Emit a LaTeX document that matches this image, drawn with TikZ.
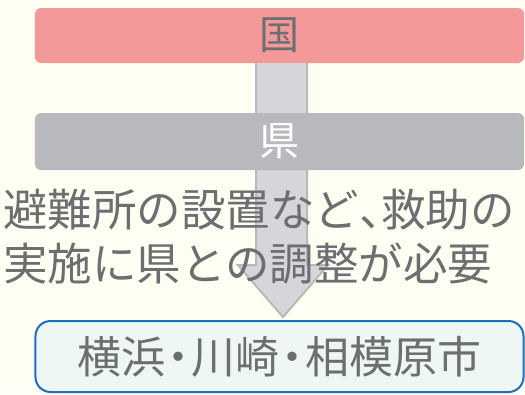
\documentclass[tikz,border=0pt]{standalone}
\usepackage{fontspec}
\newfontfamily\jp{Noto Sans CJK JP}
\usetikzlibrary{calc}
\definecolor{bgc}{HTML}{FFFEF2}
\definecolor{pinkc}{HTML}{F4999A}
\definecolor{barg}{HTML}{B8B9BC}
\definecolor{arrf}{HTML}{D5D6D9}
\definecolor{txtc}{HTML}{6D6E71}
\definecolor{bluec}{HTML}{1B6EC2}
\definecolor{boxf}{HTML}{EEF7F4}
\tikzset{
  bar/.style={rounded corners=6bp, minimum width=489bp, inner sep=0pt, font=\jp\fontsize{40bp}{44bp}\selectfont},
  bigtext/.style={anchor=base west, inner sep=0pt, text=txtc, font=\jp\fontsize{44.5bp}{48bp}\selectfont},
  citybox/.style={draw=bluec, line width=2bp, fill=boxf, rounded corners=15bp, minimum width=488bp, minimum height=71bp, inner sep=0pt, text=txtc, font=\jp\fontsize{44bp}{48bp}\selectfont},
  blockarrow/.style={draw=barg, fill=arrf, line width=2bp, line join=miter}
}
\newcommand{\nakaguro}{\makebox[0.6em][c]{・}}
\begin{document}
\begin{tikzpicture}[x=1bp,y=-1bp]
\fill[bgc] (0,0) rectangle (525,394);
\useasboundingbox (0,0) rectangle (525,394);
\node[bar, fill=pinkc, minimum height=55bp, text=txtc] (kuni) at (279.5,35.5) {国};
\node[citybox] (city) at (279.5,356.5) {横浜\nakaguro 川崎\nakaguro 相模原市};
\coordinate (tip) at (283,317);
\draw[blockarrow] ($(kuni.south)+(-23.5,0)$) -- ($(kuni.south)+(-23.5,202)$) -- ($(kuni.south)+(-41.5,202)$) -- (tip) -- ($(kuni.south)+(48.5,202)$) -- ($(kuni.south)+(27.5,202)$) -- ($(kuni.south)+(27.5,0)$);
\node[bar, fill=barg, minimum height=57bp, text=white] (ken) at (279.5,141.5) {県};
\node[bigtext] (line1) at (3,226) {避難所の設置など\makebox[0.5em][l]{、}救助の};
\node[bigtext] (line2) at (3,280) {実施に県との調整が必要};
\end{tikzpicture}
\end{document}
